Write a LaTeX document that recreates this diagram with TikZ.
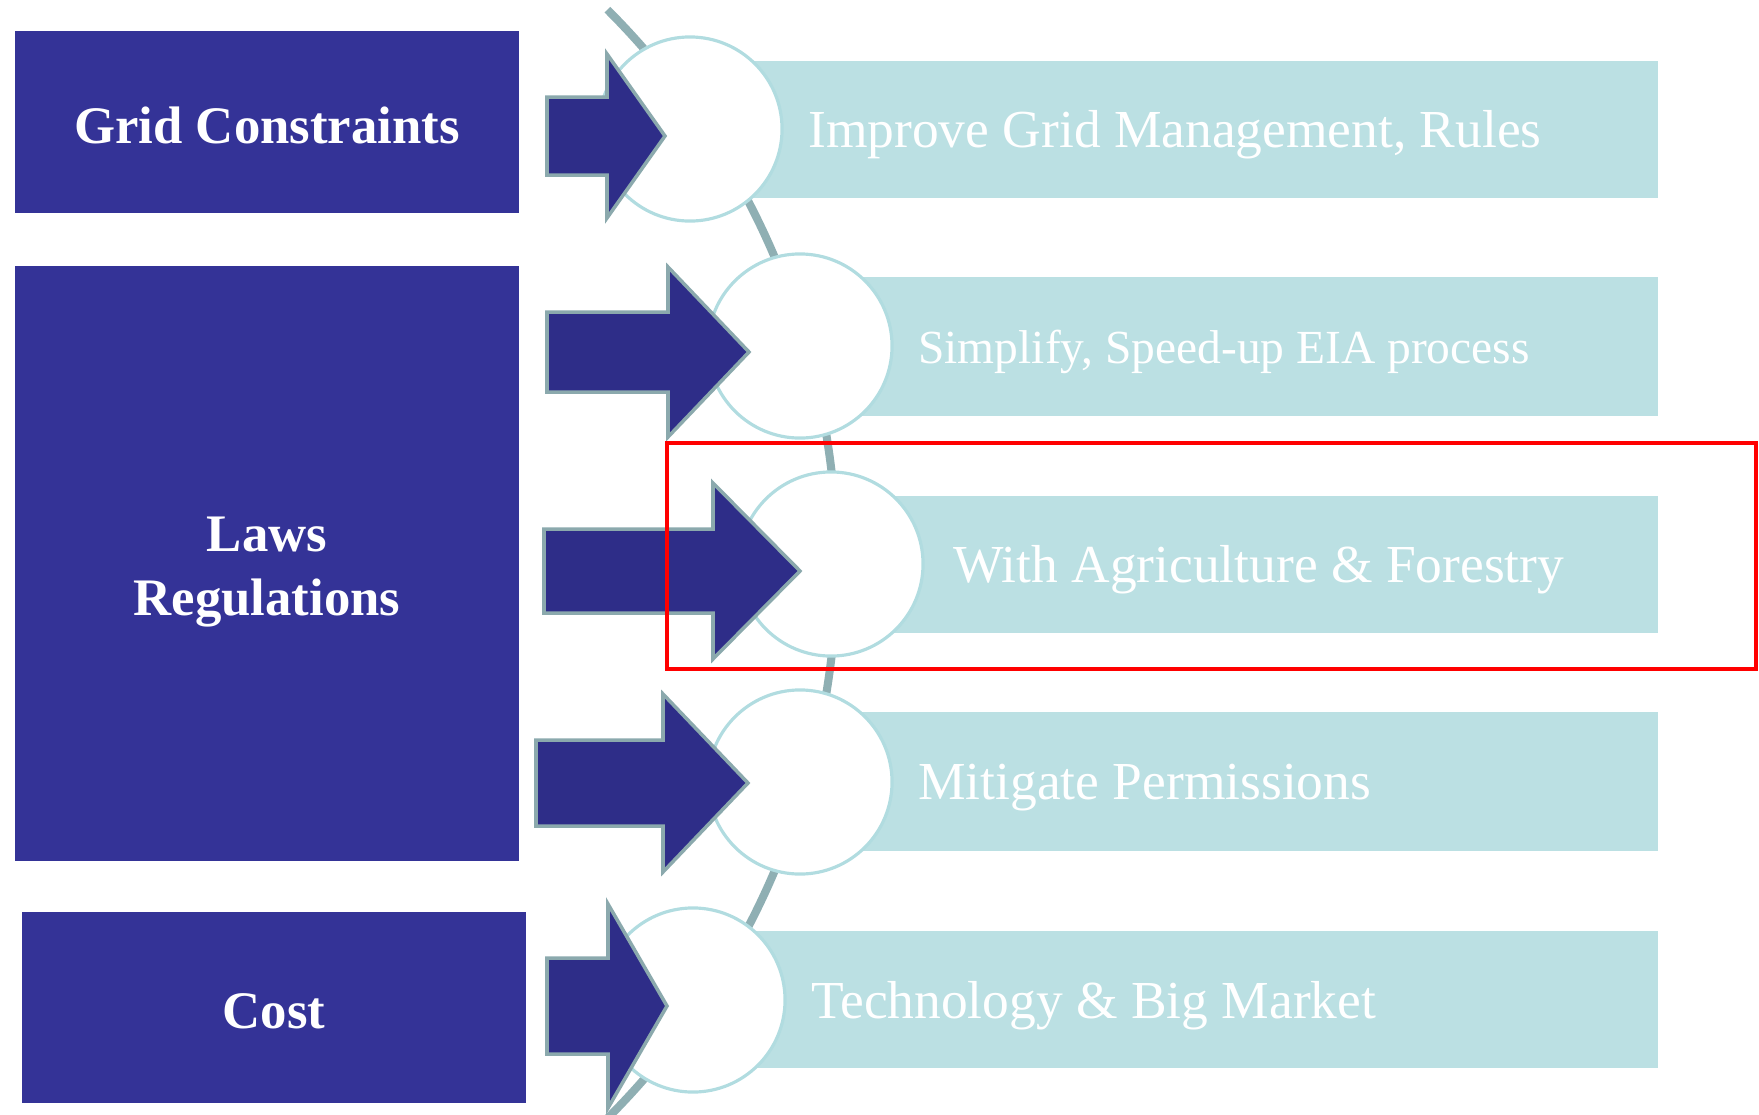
\documentclass[tikz,border=0pt]{standalone}
\usepackage{fontspec}
\setmainfont{Liberation Serif}
\usetikzlibrary{calc}

% block arrow: left x, base x, tip x, centre y, half shaft, half head
\newcommand{\causearrow}[6]{%
    \draw[blockarrow] (#1,#4-#5) -- (#2,#4-#5) -- (#2,#4-#6) -- (#3,#4)
        -- (#2,#4+#6) -- (#2,#4+#5) -- (#1,#4+#5) -- cycle;
}

\begin{document}
\begin{tikzpicture}[x=0.01cm, y=-0.01cm, line join=miter]

    % --- Definitions ---
    % Colors to match the image
    \definecolor{boxblue}{RGB}{52, 51, 151}
    \definecolor{arrowblue}{RGB}{46, 45, 136}
    \definecolor{arrowedge}{RGB}{139, 169, 173}
    \definecolor{spinegrey}{RGB}{143, 175, 179}
    \definecolor{ringedge}{RGB}{177, 220, 224}
    \definecolor{barfill}{RGB}{187, 224, 227}

    \tikzset{
        cause/.style={fill=boxblue, text=white, align=center, inner sep=0pt,
            minimum width=5.04cm, font=\fontsize{15}{18}\selectfont\bfseries},
        ring/.style={circle, draw=ringedge, line width=0.9pt, fill=white,
            minimum size=1.84cm, inner sep=0pt},
        remedy/.style={text=white, anchor=west, inner sep=0pt,
            font=\fontsize{15.2}{18}\selectfont},
        blockarrow/.style={fill=arrowblue, draw=arrowedge, line width=1pt},
    }

    \useasboundingbox (0,0) rectangle (1759,1114);

    % --- Spine (big arc through the rings) ---
    \coordinate (S) at (53,564);
    \draw[spinegrey, line width=2.3pt] ($(S)+(-45:784)$)
        arc[start angle=-45, end angle=45, radius=784];

    % --- Bars ---
    \fill[barfill] (690,61) rectangle (1658,198);
    \fill[barfill] (800,277) rectangle (1658,416);
    \fill[barfill] (831,496) rectangle (1658,633);
    \fill[barfill] (800,712) rectangle (1658,851);
    \fill[barfill] (693,931) rectangle (1658,1068);

    % --- Rings ---
    \node[ring] (r1) at (690,129) {};
    \node[ring] (r2) at (800,346) {};
    \node[ring] (r3) at (831,564) {};
    \node[ring] (r4) at (800,782) {};
    \node[ring] (r5) at (693,1000) {};

    % --- Remedies ---
    \node[remedy] (t1) at ($(r1.east)+(24,6)$) {Improve Grid Management, Rules};
    \node[remedy, font=\fontsize{13.5}{16}\selectfont] (t2) at ($(r2.east)+(24,6)$) {Simplify, Speed-up EIA process};
    \node[remedy] (t3) at ($(r3.east)+(28,6)$) {With Agriculture \&\ Forestry};
    \node[remedy] (t4) at ($(r4.east)+(24,6)$) {Mitigate Permissions};
    \node[remedy] (t5) at ($(r5.east)+(24,6)$) {Technology \& Big Market};

    % --- Arrows ---
    \causearrow{547}{607}{665}{136}{39}{82}
    \causearrow{547}{668}{749}{352}{40}{85}
    \causearrow{544}{713}{800}{571}{42}{88}
    \causearrow{536}{663}{748}{783}{43}{89}
    \causearrow{547}{608}{667}{1006}{48}{102}

    % --- Causes ---
    \node[cause, minimum height=1.82cm] (grid) at (267,122) {};
    \node[font=\fontsize{15}{18}\selectfont\bfseries, text=white] (gridtext) at (267,125) {Grid Constraints};
    \node[cause, minimum height=5.95cm] (laws) at (267,563.5) {};
    \node[font=\fontsize{15}{18}\selectfont\bfseries, text=white, align=center] (lawstext) at (267,572) {Laws\\Regulations};
    \node[cause, minimum height=1.91cm] (cost) at (274,1007.5) {};
    \node[font=\fontsize{15}{18}\selectfont\bfseries, text=white] (costtext) at (274,1011) {Cost};

    % --- Highlight ---
    \draw[red, line width=0.9pt] (667,443) rectangle (1756,669);

\end{tikzpicture}
\end{document}
